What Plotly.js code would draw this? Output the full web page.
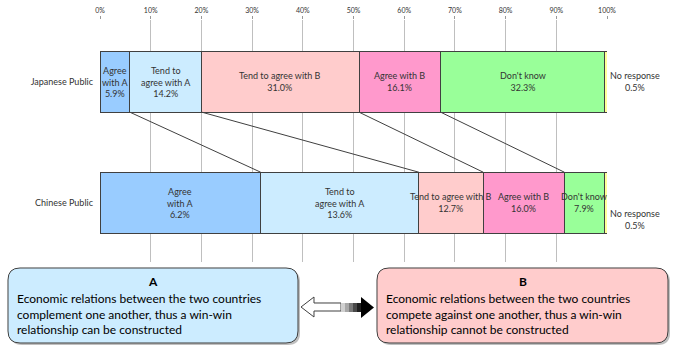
<!DOCTYPE html>
<html><head><meta charset="utf-8">
<script src="https://cdn.plot.ly/plotly-3.0.1.min.js"></script>
<style>html,body{margin:0;padding:0;background:#fff}#chart{width:680px;height:353px}</style>
</head><body><div id="chart"></div>
<script>
// ---- data ----
const groups = ["Japanese Public", "Chinese Public"];
const segments = ["Agree with A", "Tend to agree with A", "Tend to agree with B", "Agree with B", "Don't know", "No response"];
const japanValues = [5.9, 14.2, 31.0, 16.1, 32.3, 0.5];
const chinaWidths = [31.7, 31.2, 12.7, 16.0, 7.9, 0.5];   // bar widths as drawn in the reference
const japanLabels = ["Agree<br>with A<br>5.9%", "Tend to<br>agree with A<br>14.2%", "Tend to agree with B<br>31.0%", "Agree with B<br>16.1%", "Don't know<br>32.3%", ""];
const chinaLabels = ["Agree<br>with A<br>6.2%", "Tend to<br>agree with A<br>13.6%", "Tend to agree with B<br>12.7%", "Agree with B<br>16.0%", "Don't know<br>7.9%", ""];
const noResponseText = ["No response<br>0.5%", "No response<br>0.5%"];
const colors = ["#99CCFF", "#CCECFF", "#FFCCCC", "#FF99CC", "#99FF99", "#FFFF99"];
const tickVals = [0,10,20,30,40,50,60,70,80,90,100];
const boxA = {title: "A", lines: ["Economic relations between the two countries", "complement one another, thus a win-win", "relationship can be constructed"]};
const boxB = {title: "B", lines: ["Economic relations between the two countries", "compete against one another, thus a win-win", "relationship cannot be constructed"]};

// ---- geometry ----
const W = 680, H = 353, L = 100, R = 73, T = 20, B = 91;
const pw = W - L - R, ph = H - T - B;
const yJ = 1, yC = 0, bw = 0.504;
const yRange = [-0.49, 1.51];
const px2x = p => (p - L) / pw;
const py2y = p => (H - B - p) / ph;
const font = "Lato, 'Open Sans', sans-serif";
const txtColor = "#333333";

const traces = [];
segments.forEach((s, i) => {
  traces.push({
    type: "bar", orientation: "h", name: s,
    y: [yJ, yC], x: [japanValues[i], chinaWidths[i]],
    width: bw,
    marker: {color: colors[i], line: {color: "#404040", width: 1}},
    hoverinfo: "none"
  });
});

function cum(arr){ const out=[]; let s=0; arr.forEach(v=>{s+=v; out.push(s);}); return out; }
const cj = cum(japanValues), cc = cum(chinaWidths);
// connector lines between cumulative boundaries
for (let i = 0; i < 4; i++) {
  traces.push({
    type: "scatter", mode: "lines", x: [cj[i], cc[i]], y: [yJ - bw/2, yC + bw/2],
    line: {color: "#404040", width: 1}, hoverinfo: "none", showlegend: false
  });
}

// shapes
function P(x, y){ return px2x(x).toFixed(5) + "," + py2y(y).toFixed(5); }
function roundRect(x0,y0,x1,y1,r){
  return "M" + P(x0+r,y0) + " L" + P(x1-r,y0) + " Q" + P(x1,y0) + " " + P(x1,y0+r) +
    " L" + P(x1,y1-r) + " Q" + P(x1,y1) + " " + P(x1-r,y1) + " L" + P(x0+r,y1) +
    " Q" + P(x0,y1) + " " + P(x0,y1-r) + " L" + P(x0,y0+r) + " Q" + P(x0,y0) + " " + P(x0+r,y0) + " Z";
}
function poly(pts){ return "M" + pts.map(p=>P(p[0],p[1])).join(" L") + " Z"; }
const shapes = [];
shapes.push({type:"path", xref:"paper", yref:"paper", path: roundRect(10,270,300,345,12), fillcolor:"rgba(0,0,0,0.25)", line:{width:0}, layer:"above"});
shapes.push({type:"path", xref:"paper", yref:"paper", path: roundRect(379,270,670,345,12), fillcolor:"rgba(0,0,0,0.25)", line:{width:0}, layer:"above"});
shapes.push({type:"path", xref:"paper", yref:"paper", path: roundRect(8,268,298,343,12), fillcolor:"#CCECFF", line:{color:"#404040", width:1}, layer:"above"});
shapes.push({type:"path", xref:"paper", yref:"paper", path: roundRect(377,268,668,343,12), fillcolor:"#FFCCCC", line:{color:"#404040", width:1}, layer:"above"});
shapes.push({type:"path", xref:"paper", yref:"paper",
  path: poly([[301,307],[314,297],[314,303],[341,303],[341,311],[314,311],[314,317]]),
  fillcolor:"#FFFFFF", line:{color:"#404040", width:1}, layer:"above"});
const shaftCols = ["#d0d0d0","#a8a8a8","#7a7a7a","#4a4a4a","#202020"];
shaftCols.forEach((c,k)=>{
  const xa = 341 + k*4, xb = xa + 4.5;
  shapes.push({type:"path", xref:"paper", yref:"paper", path: poly([[xa,303],[xb,303],[xb,312],[xa,312]]), fillcolor:c, line:{width:0}, layer:"above"});
});
shapes.push({type:"path", xref:"paper", yref:"paper",
  path: poly([[361,303],[361,297],[374,307.5],[361,318],[361,312]]),
  fillcolor:"#000000", line:{width:0}, layer:"above"});

// annotations
const annotations = [];
// segment labels, centred on each segment
[[japanValues, cj, japanLabels, yJ], [chinaWidths, cc, chinaLabels, yC]].forEach(([vals, cs, labs, yv]) => {
  labs.forEach((t, i) => {
    if (!t) return;
    annotations.push({x: cs[i] - vals[i]/2, y: yv, xref:"x", yref:"y", text: t, showarrow:false,
      xanchor:"center", yanchor:"middle", align:"center",
      font:{family:font, size:9, color:txtColor}});
  });
});
noResponseText.forEach((t, i) => {
  annotations.push({x: 100, y: i === 0 ? yJ : yC - 0.14, xref:"x", yref:"y", text: t, showarrow:false,
    xanchor:"left", xshift: 1, font:{family:font, size:9, color:txtColor}, align:"center"});
});
[[boxA, 8, 298], [boxB, 377, 668]].forEach(([b, x0, x1]) => {
  annotations.push({x: px2x((x0+x1)/2), y: py2y(281.5), xref:"paper", yref:"paper", text:"<b>"+b.title+"</b>",
    showarrow:false, font:{family:font, size:12, color:"#000"}, xanchor:"center", yanchor:"middle"});
  annotations.push({x: px2x(x0+7), y: py2y(289), xref:"paper", yref:"paper", text: b.lines.join("<br>"),
    showarrow:false, align:"left", xanchor:"left", yanchor:"top",
    font:{family:font, size:12, color:"#000"}});
});

const layout = {
  width: W, height: H, margin: {l: L, r: R, t: T, b: B},
  barmode: "stack", showlegend: false,
  paper_bgcolor: "#fff", plot_bgcolor: "#fff",
  xaxis: {range: [0, 100], side: "top", tickvals: tickVals, ticktext: tickVals.map(v => v + "%"),
    showgrid: true, gridcolor: "#BFBFBF", gridwidth: 1, zeroline: false,
    ticks: "outside", ticklen: 3, tickcolor: "#999", showline: false,
    tickfont: {family: font, size: 7, color: txtColor}},
  yaxis: {range: yRange, tickvals: [yJ, yC], ticktext: groups, showgrid: false, zeroline: false,
    ticks: "", ticklabelstandoff: 6,
    tickfont: {family: font, size: 9, color: txtColor}},
  shapes: shapes, annotations: annotations,
  font: {family: font}
};
Plotly.newPlot("chart", traces, layout, {displayModeBar: false, staticPlot: true});
</script></body></html>
